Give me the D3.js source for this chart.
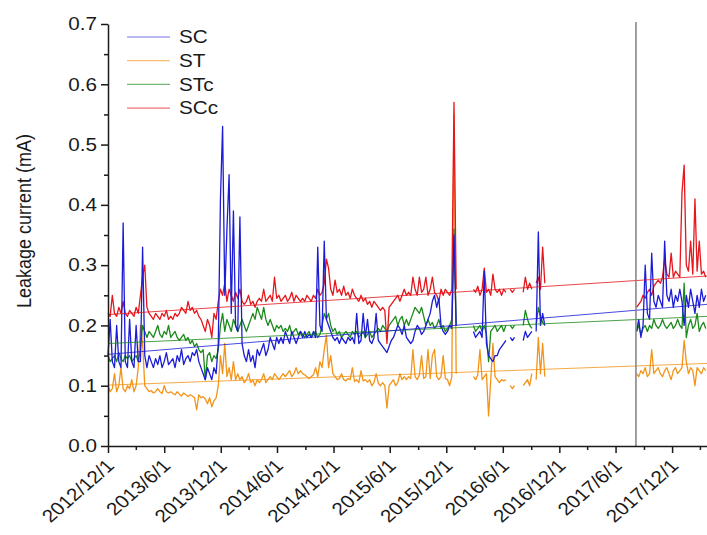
<!DOCTYPE html>
<html>
<head>
<meta charset="utf-8">
<script src="https://cdn.jsdelivr.net/npm/d3@7"></script>
<style>
  body { margin: 0; background: #fff; }
  svg { display: block; font-family: "Liberation Sans", Arial, sans-serif; }
</style>
</head>
<body>
<div class="chart"></div>
<script>
// weekly readings (mA); block A starts 2012/12/1, block B starts 2017/8/8, null = no data
var startA = '2012/12/1';
var startB = '2017/8/8';
var stepDays = 7;

var names = ['SC', 'ST', 'STc', 'SCc'];
var colors = ['#1c1cd6', '#f39419', '#1b8a1b', '#e5161c'];

var scA = [
  0.15, 0.21, 0.14, 0.13, 0.2, 0.14, 0.13, 0.37, 0.14, 0.13,
  0.21, 0.14, 0.13, 0.2, 0.14, 0.14, 0.33, 0.15, 0.13, 0.15,
  0.14, 0.13, 0.145, 0.135, 0.15, 0.13, 0.14, 0.155, 0.135, 0.14,
  0.145, 0.13, 0.15, 0.14, 0.16, 0.135, 0.145, 0.15, 0.14, 0.155,
  0.15, 0.16, 0.14, 0.13, 0.12, 0.11, 0.13, 0.12, 0.11, 0.13,
  0.12, 0.17, 0.41, 0.53, 0.25, 0.36, 0.45, 0.22, 0.39, 0.2,
  0.19, 0.38, 0.17, 0.15, 0.14, 0.16, 0.14, 0.15, 0.13, 0.16,
  0.15, 0.16, 0.17, 0.15, 0.16, 0.18, 0.17, 0.16, 0.18, 0.17,
  0.18, 0.17, 0.19, 0.18, 0.17, 0.19, 0.18, 0.17, 0.18, 0.19,
  0.18, 0.19, 0.18, 0.185, 0.18, 0.19, 0.18, 0.33, 0.2, 0.19,
  0.34, 0.21, 0.2, 0.19, 0.18, 0.175, 0.18, 0.17, 0.18, 0.175,
  0.17, 0.18, 0.175, 0.18, 0.17, 0.22, 0.17, 0.175, 0.22, 0.18,
  0.21, 0.175, 0.17, 0.18, 0.22, 0.175, 0.17, 0.165, 0.16, 0.155,
  0.165, 0.175, 0.18, 0.19, 0.2, 0.195, 0.185, 0.2, 0.18, 0.175,
  0.17, 0.175, 0.19, 0.2, 0.195, 0.185, 0.19, 0.2, 0.21, 0.22,
  0.24, 0.25, 0.23, 0.245, 0.2, 0.19, 0.185, 0.19, 0.2, 0.195,
  0.35, 0.2, null, null, null, null, null, null, null, 0.19,
  0.18, 0.185, 0.19, 0.18, 0.29, 0.17, 0.15, 0.145, 0.14, 0.15,
  0.15, 0.16, 0.165, 0.17, 0.175, null, 0.18, 0.175, 0.18, null,
  null, null, 0.175, 0.19, 0.18, 0.185, 0.19, null, 0.19, 0.355,
  0.2, 0.22, 0.2
];
var stA = [
  0.1, 0.09, 0.095, 0.12, 0.09, 0.1, 0.13, 0.095, 0.09, 0.1,
  0.095, 0.11, 0.09, 0.1, 0.13, 0.2, 0.17, 0.1, 0.095, 0.09,
  0.092, 0.088, 0.09, 0.095, 0.09, 0.087, 0.1, 0.09, 0.088, 0.09,
  0.087, 0.085, 0.09, 0.086, 0.083, 0.088, 0.085, 0.082, 0.085, 0.083,
  0.08, 0.06, 0.085, 0.08, 0.082, 0.078, 0.07, 0.08, 0.065, 0.075,
  0.08, 0.1, 0.15, 0.12, 0.17, 0.115, 0.13, 0.11, 0.14, 0.11,
  0.12, 0.11, 0.115, 0.105, 0.11, 0.12, 0.105, 0.11, 0.1, 0.11,
  0.105, 0.11, 0.12, 0.105, 0.11, 0.115, 0.11, 0.12, 0.115, 0.11,
  0.115, 0.12, 0.115, 0.12, 0.125, 0.115, 0.12, 0.13, 0.12, 0.125,
  0.12, 0.118, 0.115, 0.112, 0.115, 0.118, 0.13, 0.115, 0.14, 0.13,
  0.16, 0.184, 0.13, 0.15, 0.12, 0.115, 0.11, 0.112, 0.12, 0.11,
  0.108, 0.112, 0.11, 0.13, 0.107, 0.11, 0.105, 0.125, 0.108, 0.11,
  0.106, 0.11, 0.1, 0.105, 0.12, 0.104, 0.1, 0.105, 0.1, 0.063,
  0.1, 0.105, 0.11, 0.1, 0.105, 0.12, 0.11, 0.115, 0.11, 0.115,
  0.112, 0.16, 0.115, 0.11, 0.118, 0.15, 0.112, 0.115, 0.16, 0.112,
  0.15, 0.16, 0.115, 0.11, 0.115, 0.15, 0.112, 0.11, 0.1, 0.115,
  0.55, 0.12, null, null, null, null, null, null, null, 0.115,
  0.11, 0.118, 0.16, 0.11, 0.115, 0.12, 0.05, 0.11, 0.17, 0.115,
  0.11, 0.105, 0.11, 0.108, 0.11, null, 0.1, 0.095, 0.1, null,
  null, null, 0.1, 0.105, 0.11, 0.1, 0.12, null, 0.11, 0.18,
  0.12, 0.17, 0.115
];
var stcA = [
  0.15, 0.14, 0.145, 0.15, 0.14, 0.155, 0.145, 0.14, 0.15, 0.145,
  0.15, 0.14, 0.145, 0.15, 0.14, 0.16, 0.2, 0.19, 0.18, 0.19,
  0.185, 0.18, 0.19, 0.2, 0.185, 0.18, 0.19, 0.185, 0.2, 0.18,
  0.185, 0.19, 0.18, 0.175, 0.18, 0.185, 0.175, 0.18, 0.17, 0.175,
  0.165, 0.17, 0.16, 0.155, 0.16, 0.11, 0.15, 0.155, 0.14, 0.15,
  0.145, 0.16, 0.2, 0.22, 0.19, 0.21, 0.2, 0.19, 0.21, 0.2,
  0.19, 0.2, 0.21, 0.2, 0.19, 0.2, 0.21, 0.22, 0.21, 0.23,
  0.22, 0.21, 0.23, 0.21, 0.2, 0.21, 0.2, 0.19, 0.2, 0.195,
  0.2, 0.19, 0.195, 0.19, 0.2, 0.185, 0.19, 0.195, 0.185, 0.19,
  0.185, 0.18, 0.185, 0.19, 0.18, 0.185, 0.19, 0.18, 0.185, 0.2,
  0.22, 0.21, 0.22, 0.2, 0.19, 0.195, 0.185, 0.19, 0.18, 0.185,
  0.19, 0.185, 0.18, 0.19, 0.185, 0.19, 0.18, 0.185, 0.19, 0.18,
  0.185, 0.19, 0.18, 0.185, 0.19, 0.195, 0.19, 0.2, 0.195, 0.19,
  0.2, 0.205, 0.21, 0.215, 0.2, 0.21, 0.215, 0.2, 0.21, 0.2,
  0.21, 0.22, 0.23, 0.225, 0.22, 0.23, 0.215, 0.2, 0.21, 0.2,
  0.205, 0.195, 0.2, 0.21, 0.195, 0.2, 0.19, 0.195, 0.2, 0.21,
  0.36, 0.2, null, null, null, null, null, null, null, 0.2,
  0.19, 0.195, 0.2, 0.19, 0.2, 0.185, 0.14, 0.19, 0.195, 0.2,
  0.19, 0.195, 0.2, 0.19, 0.2, null, 0.2, 0.195, 0.2, null,
  null, null, 0.2, 0.225, 0.21, 0.2, 0.195, null, 0.2, 0.23,
  0.215, 0.205, 0.2
];
var sccA = [
  0.22, 0.215, 0.25, 0.22, 0.215, 0.23, 0.22, 0.24, 0.22, 0.215,
  0.225, 0.22, 0.215, 0.23, 0.22, 0.25, 0.28, 0.3, 0.23, 0.22,
  0.215, 0.21, 0.22, 0.215, 0.21, 0.22, 0.215, 0.225, 0.21, 0.215,
  0.21, 0.22, 0.215, 0.22, 0.23, 0.225, 0.22, 0.24, 0.225, 0.23,
  0.22, 0.225, 0.215, 0.21, 0.2, 0.19, 0.21, 0.2, 0.18, 0.22,
  0.21, 0.24, 0.26, 0.25, 0.27, 0.24, 0.26, 0.25, 0.24, 0.255,
  0.245, 0.26, 0.24, 0.235, 0.24, 0.25, 0.235, 0.24, 0.23, 0.24,
  0.245, 0.24, 0.26, 0.24, 0.245, 0.25, 0.24, 0.28, 0.245, 0.25,
  0.24, 0.245, 0.25, 0.24, 0.245, 0.255, 0.24, 0.25, 0.245, 0.24,
  0.245, 0.24, 0.25, 0.245, 0.24, 0.25, 0.245, 0.26, 0.25, 0.255,
  0.27, 0.31, 0.295, 0.26, 0.25, 0.275, 0.255, 0.26, 0.25, 0.265,
  0.25, 0.255, 0.245, 0.26, 0.25, 0.245, 0.24, 0.25, 0.24, 0.245,
  0.235, 0.24, 0.23, 0.24, 0.235, 0.23, 0.225, 0.23, 0.225, 0.17,
  0.23, 0.235, 0.24, 0.245, 0.25, 0.24, 0.25, 0.26, 0.25, 0.255,
  0.25, 0.28, 0.26, 0.25, 0.28, 0.255, 0.26, 0.28, 0.25, 0.26,
  0.28, 0.255, 0.25, 0.24, 0.26, 0.25, 0.26, 0.255, 0.25, 0.26,
  0.57, 0.26, null, null, null, null, null, null, null, 0.26,
  0.255, 0.265, 0.25, 0.26, 0.295, 0.255, 0.26, 0.25, 0.285, 0.26,
  0.255, 0.26, 0.25, 0.26, 0.255, null, 0.26, 0.255, 0.26, null,
  null, null, 0.255, 0.28, 0.26, 0.27, 0.26, null, 0.27, 0.28,
  0.26, 0.33, 0.27
];

var scB = [
  0.19, 0.21, 0.18, 0.2, 0.3, 0.22, 0.21, 0.32, 0.24, 0.23,
  0.25, 0.24, 0.23, 0.34, 0.25, 0.24, 0.26, 0.23, 0.25, 0.24,
  0.26, 0.24, 0.2, 0.25, 0.23, 0.26, 0.24, 0.22, 0.25, 0.23,
  0.26, 0.24, 0.25
];
var stB = [
  0.12, 0.115, 0.125, 0.12, 0.13, 0.115, 0.12, 0.16, 0.12, 0.125,
  0.13, 0.12, 0.115, 0.125, 0.13, 0.12, 0.11, 0.125, 0.13, 0.12,
  0.125, 0.13, 0.175, 0.14, 0.12, 0.13, 0.125, 0.1, 0.13, 0.125,
  0.12, 0.13, 0.125
];
var stcB = [
  0.19, 0.2, 0.185, 0.195, 0.2, 0.19, 0.2, 0.195, 0.21, 0.2,
  0.195, 0.2, 0.21, 0.2, 0.195, 0.2, 0.205, 0.195, 0.2, 0.21,
  0.2, 0.195, 0.27, 0.18, 0.2, 0.21, 0.195, 0.2, 0.22, 0.19,
  0.2, 0.205, 0.195
];
var sccB = [
  0.23, 0.235, 0.24, 0.25, 0.245, 0.255, 0.26, 0.25, 0.265, 0.27,
  0.275, 0.27, 0.28, 0.31, 0.285, 0.28, 0.32, 0.28, 0.29, 0.285,
  0.28, 0.42, 0.466, 0.3, 0.29, 0.34, 0.285, 0.41, 0.29, 0.34,
  0.285, 0.29, 0.28
];

// straight fitted lines, value at start and end of the axis
var trendDates = ['2012/12/1', '2018/3/24'];
var scTrend = [0.152, 0.235];
var stTrend = [0.101, 0.137];
var stcTrend = [0.17, 0.215];
var sccTrend = [0.218, 0.282];

var markerDate = '2017/8/6';

var xTickLabels = ['2012/12/1', '2013/6/1', '2013/12/1', '2014/6/1', '2014/12/1', '2015/6/1',
  '2015/12/1', '2016/6/1', '2016/12/1', '2017/6/1', '2017/12/1'];
var xMinorTicks = ['2013/3/1', '2013/9/1', '2014/3/1', '2014/9/1', '2015/3/1', '2015/9/1',
  '2016/3/1', '2016/9/1', '2017/3/1', '2017/9/1', '2018/3/1'];
var yTicks = [0, 0.1, 0.2, 0.3, 0.4, 0.5, 0.6, 0.7];
var yMinorTicks = [0.05, 0.15, 0.25, 0.35, 0.45, 0.55, 0.65];

var svgWidth = 707;
var svgHeight = 535;
var plotLeft = 108;
var plotRight = 707;
var plotTop = 24;
var plotBottom = 446;
var stretch = 1.15; // the source picture is a little wider than tall

var parse = d3.timeParse('%Y/%m/%d');

// turn a weekly block into [date, value] points
function toPoints(start, values) {
  var d0 = parse(start);
  return values.map(function(v, i) {
    return [d3.timeDay.offset(d0, i * stepDays), v];
  });
}

var series = [
  { name: 'SC', color: colors[0], pts: [toPoints(startA, scA), toPoints(startB, scB)], trend: scTrend },
  { name: 'ST', color: colors[1], pts: [toPoints(startA, stA), toPoints(startB, stB)], trend: stTrend },
  { name: 'STc', color: colors[2], pts: [toPoints(startA, stcA), toPoints(startB, stcB)], trend: stcTrend },
  { name: 'SCc', color: colors[3], pts: [toPoints(startA, sccA), toPoints(startB, sccB)], trend: sccTrend }
];

var svg = d3.select('.chart').append('svg')
  .attr('width', svgWidth)
  .attr('height', svgHeight);

var x = d3.scaleTime()
  .domain([parse(trendDates[0]), parse(trendDates[1])])
  .range([plotLeft, plotRight]);

var y = d3.scaleLinear()
  .domain([0, 0.7])
  .range([plotBottom, plotTop]);

var line = d3.line()
  .defined(function(d) { return d[1] !== null; })
  .x(function(d) { return x(d[0]); })
  .y(function(d) { return y(d[1]); });

// draw order: orange, green, red, blue on top
var order = [1, 2, 3, 0];
var plot = svg.append('g');

order.forEach(function(k) {
  var s = series[k];
  s.pts.forEach(function(p) {
    plot.append('path')
      .datum(p)
      .attr('d', line)
      .attr('fill', 'none')
      .attr('stroke', s.color)
      .attr('stroke-width', 1.3)
      .attr('stroke-linejoin', 'round');
  });
});

// fitted lines
order.forEach(function(k) {
  var s = series[k];
  var tp = trendDates.map(function(d, i) { return [parse(d), s.trend[i]]; });
  plot.append('path')
    .datum(tp)
    .attr('d', line)
    .attr('fill', 'none')
    .attr('stroke', s.color)
    .attr('stroke-opacity', 0.8)
    .attr('stroke-width', 1);
});

// vertical marker
svg.append('line')
  .attr('x1', x(parse(markerDate)))
  .attr('x2', x(parse(markerDate)))
  .attr('y1', plotTop - 2)
  .attr('y2', plotBottom)
  .attr('stroke', '#808080')
  .attr('stroke-width', 1.5);

// x axis
var xAxis = svg.append('g')
  .attr('transform', 'translate(0,' + plotBottom + ')')
  .call(d3.axisBottom(x)
    .tickValues(xTickLabels.map(parse))
    .tickSize(7)
    .tickSizeOuter(0)
    .tickFormat(function(d, i) { return xTickLabels[i]; }));

xAxis.selectAll('text')
  .attr('x', 0)
  .attr('y', 0)
  .attr('dy', 0)
  .attr('transform', 'translate(7,21) scale(' + stretch + ',1) rotate(-45)')
  .style('text-anchor', 'end');

svg.append('g')
  .attr('transform', 'translate(0,' + plotBottom + ')')
  .call(d3.axisBottom(x)
    .tickValues(xMinorTicks.map(parse))
    .tickSize(4)
    .tickFormat(''))
  .select('.domain').remove();

// y axis
var yAxis = svg.append('g')
  .attr('transform', 'translate(' + plotLeft + ',0)')
  .call(d3.axisLeft(y)
    .tickValues(yTicks)
    .tickSize(7)
    .tickSizeOuter(0)
    .tickFormat(d3.format('.1f')));

yAxis.selectAll('text')
  .attr('x', 0)
  .attr('transform', 'translate(-11,0) scale(' + stretch + ',1)');

svg.append('g')
  .attr('transform', 'translate(' + plotLeft + ',0)')
  .call(d3.axisLeft(y)
    .tickValues(yMinorTicks)
    .tickSize(4)
    .tickFormat(''))
  .select('.domain').remove();

svg.selectAll('.domain, .tick line')
  .attr('stroke', '#1a1a1a')
  .attr('stroke-width', 1.5);

svg.selectAll('.tick text')
  .attr('fill', '#1a1a1a')
  .style('font-size', '18px')
  .style('font-family', '"Liberation Sans", Arial, sans-serif');

// y axis title
svg.append('text')
  .attr('transform', 'translate(31,221) scale(' + stretch + ',1) rotate(-90)')
  .style('text-anchor', 'middle')
  .style('font-size', '18px')
  .attr('fill', '#1a1a1a')
  .text('Leakage current (mA)');

// legend
var legend = svg.append('g');
series.forEach(function(s, i) {
  var ly = 37 + i * 23.7;
  legend.append('line')
    .attr('x1', 127)
    .attr('x2', 170)
    .attr('y1', ly)
    .attr('y2', ly)
    .attr('stroke', s.color)
    .attr('stroke-opacity', 0.6)
    .attr('stroke-width', 1.2);
  legend.append('text')
    .attr('transform', 'translate(179,' + ly + ') scale(' + stretch + ',1)')
    .attr('dy', '0.35em')
    .style('font-size', '18px')
    .attr('fill', '#1a1a1a')
    .text(s.name);
});
</script>
</body>
</html>
